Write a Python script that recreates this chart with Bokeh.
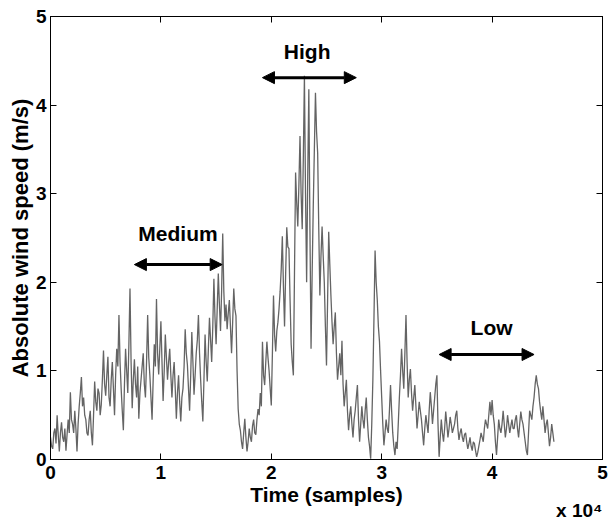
from bokeh.plotting import figure
from bokeh.models import Range1d, LinearAxis, FixedTicker, Label, Arrow, NormalHead, ColumnDataSource, Title
from bokeh.embed import file_html
from bokeh.resources import INLINE

# ---- data ----
samples = list(range(0, 45601, 100))          # time in samples
wind_speed = [
    0.25, 0.15, 0.12, 0.30, 0.35, 0.18, 0.50, 0.28, 0.09, 0.30,   # 0.0e4
    0.42, 0.25, 0.20, 0.35, 0.10, 0.28, 0.45, 0.30, 0.76, 0.45,
    0.40, 0.30, 0.55, 0.35, 0.09, 0.40, 0.60, 0.75, 0.93, 0.60,
    0.70, 0.50, 0.45, 0.30, 0.27, 0.45, 0.55, 0.30, 0.16, 0.50,
    0.88, 0.65, 0.55, 0.80, 0.75, 0.50, 0.62, 0.90, 1.23, 0.85,
    0.72, 0.95, 1.16, 0.70, 0.60, 0.90, 1.10, 0.80, 0.50, 0.95,
    1.25, 1.05, 1.63, 1.10, 0.80, 0.55, 0.33, 0.85, 1.25, 1.00,
    0.75, 1.30, 1.93, 1.10, 0.58, 0.90, 1.13, 0.85, 0.70, 1.05,
    0.46, 0.75, 0.90, 1.05, 1.20, 0.85, 0.70, 1.10, 1.63, 1.15,
    0.95, 0.70, 0.45, 0.90, 1.30, 1.05, 1.81, 1.20, 0.96, 1.25,
    1.56, 1.10, 0.66, 1.00, 1.41, 1.15, 0.90, 1.10, 1.25, 0.95,   # 1.0e4
    0.70, 0.95, 1.10, 0.80, 0.46, 0.75, 0.95, 0.65, 0.43, 0.70,
    0.80, 1.05, 1.47, 1.20, 1.07, 0.80, 0.55, 0.95, 1.44, 1.10,
    0.73, 0.95, 1.20, 1.35, 1.63, 1.20, 0.90, 0.65, 0.43, 0.90,
    1.41, 1.10, 0.88, 1.25, 1.60, 1.35, 1.10, 1.50, 2.04, 1.60,
    1.30, 1.70, 2.10, 1.75, 1.45, 1.90, 2.55, 1.90, 1.56, 1.75,
    1.47, 1.65, 1.80, 1.50, 1.20, 1.55, 1.93, 1.70, 1.62, 1.00,
    0.57, 0.40, 0.33, 0.20, 0.12, 0.30, 0.46, 0.25, 0.09, 0.20,
    0.35, 0.25, 0.20, 0.38, 0.45, 0.30, 0.28, 0.45, 0.57, 0.50,
    0.75, 0.60, 1.33, 0.95, 0.84, 1.10, 1.33, 1.15, 1.00, 0.80,
    0.61, 1.20, 1.85, 1.40, 1.22, 1.45, 1.55, 1.70, 1.90, 2.15,   # 2.0e4
    2.52, 1.95, 1.50, 2.10, 2.62, 2.40, 2.38, 1.80, 1.30, 1.10,
    0.95, 2.10, 3.24, 2.90, 2.63, 3.10, 3.65, 3.00, 2.60, 3.40,
    4.33, 3.00, 2.00, 3.20, 4.18, 2.60, 1.25, 2.10, 2.85, 3.50,
    4.14, 3.70, 3.46, 2.60, 1.85, 2.30, 2.63, 2.30, 2.00, 1.50,
    1.06, 1.80, 2.57, 2.20, 1.85, 1.55, 1.30, 1.50, 1.66, 1.20,
    0.90, 1.05, 1.20, 0.95, 1.34, 0.85, 0.60, 0.75, 0.90, 0.55,
    0.33, 0.50, 0.60, 0.40, 0.25, 0.45, 0.55, 0.70, 0.84, 0.45,
    0.20, 0.40, 0.60, 0.45, 0.35, 0.55, 0.70, 0.45, 0.25, 0.15,
    0.01, 0.40, 0.90, 1.60, 2.36, 2.00, 1.80, 1.50, 1.33, 1.00,
    0.70, 0.40, 0.16, 0.30, 0.45, 0.35, 0.30, 0.55, 0.84, 0.55,   # 3.0e4
    0.30, 0.15, 0.05, 0.20, 0.12, 0.40, 0.70, 0.95, 1.25, 1.00,
    0.80, 1.20, 1.63, 1.10, 0.70, 0.90, 1.02, 0.75, 0.55, 0.70,
    0.84, 0.60, 0.35, 0.50, 0.65, 0.55, 0.45, 0.30, 0.16, 0.35,
    0.50, 0.40, 0.30, 0.55, 0.76, 0.60, 0.40, 0.55, 0.70, 0.85,
    0.95, 0.40, 0.03, 0.25, 0.45, 0.30, 0.20, 0.35, 0.54, 0.40,
    0.25, 0.35, 0.48, 0.40, 0.30, 0.35, 0.40, 0.50, 0.55, 0.35,
    0.22, 0.30, 0.35, 0.25, 0.20, 0.28, 0.30, 0.20, 0.12, 0.18,
    0.25, 0.15, 0.10, 0.20, 0.18, 0.10, 0.03, 0.08, 0.15, 0.22,
    0.30, 0.25, 0.20, 0.35, 0.45, 0.40, 0.35, 0.50, 0.65, 0.50,
    0.67, 0.50, 0.40, 0.20, 0.05, 0.25, 0.45, 0.35, 0.30, 0.40,   # 4.0e4
    0.55, 0.40, 0.25, 0.35, 0.50, 0.40, 0.30, 0.38, 0.45, 0.35,
    0.35, 0.45, 0.50, 0.35, 0.25, 0.40, 0.54, 0.45, 0.40, 0.30,
    0.20, 0.10, 0.05, 0.30, 0.55, 0.50, 0.45, 0.60, 0.70, 0.85,
    0.95, 0.85, 0.80, 0.65, 0.54, 0.45, 0.60, 0.45, 0.30, 0.40,
    0.45, 0.30, 0.15, 0.25, 0.40, 0.30, 0.20,
]
x_ticks = [0, 1, 2, 3, 4, 5]
y_ticks = [0, 1, 2, 3, 4, 5]
x_scale = 1e4

# annotation regions: (label, x_start, x_end, arrow_y, text_x, text_y)
regions = [
    ("Medium", 0.76, 1.555, 2.20, 1.155, 2.55),
    ("High", 1.92, 2.77, 4.31, 2.325, 4.61),
    ("Low", 3.52, 4.38, 1.185, 3.995, 1.49),
]

FONT = "Liberation Sans"

src = ColumnDataSource(data=dict(t=[s / x_scale for s in samples], v=wind_speed))

p = figure(width=616, height=519, output_backend="svg", toolbar_location=None,
           x_range=Range1d(0, 5), y_range=Range1d(0, 5),
           min_border_left=50, min_border_right=14, min_border_top=16, min_border_bottom=60)
p.background_fill_color = "white"
p.border_fill_color = "white"
p.outline_line_color = "black"
p.grid.visible = False

p.line("t", "v", source=src, line_color="#646464", line_width=1.3)

def style_axis(ax, ticks, show_labels, standoff):
    ax.ticker = FixedTicker(ticks=ticks)
    ax.major_tick_in = 6
    ax.major_tick_out = 0
    ax.major_tick_line_color = "black"
    ax.minor_tick_line_color = None
    ax.axis_line_color = "black"
    ax.axis_line_width = 1
    ax.major_label_text_font = FONT
    ax.major_label_text_font_style = "bold"
    if show_labels:
        ax.major_label_text_color = "black"
        ax.major_label_text_font_size = "19px"
        ax.major_label_standoff = standoff
    else:
        ax.major_label_text_color = None
        ax.major_label_text_font_size = "2px"
        ax.major_label_standoff = 0

xa = p.xaxis[0]
ya = p.yaxis[0]
style_axis(xa, x_ticks, True, 6)
style_axis(ya, y_ticks, True, 4)
for ax, txt in ((xa, "Time (samples)"), (ya, "Absolute wind speed (m/s)")):
    ax.axis_label = txt
    ax.axis_label_text_font = FONT
    ax.axis_label_text_font_style = "bold"
    ax.axis_label_text_color = "black"
xa.axis_label_text_font_size = "21px"
xa.axis_label_standoff = 1
ya.axis_label_text_font_size = "22px"
ya.axis_label_standoff = 0

top = LinearAxis()
right = LinearAxis()
style_axis(top, x_ticks, False, 0)
style_axis(right, y_ticks, False, 0)
p.add_layout(top, "above")
p.add_layout(right, "right")

p.add_layout(Title(text="x 10\u2074", align="right", standoff=-22, text_font=FONT,
                   text_font_style="bold", text_font_size="19px", text_color="black"), "below")

for name, xs, xe, ay, tx, ty in regions:
    p.add_layout(Arrow(x_start=xs, y_start=ay, x_end=xe, y_end=ay,
                       line_color="black", line_width=3,
                       start=NormalHead(size=12, fill_color="black", line_color="black"),
                       end=NormalHead(size=12, fill_color="black", line_color="black")))
    p.add_layout(Label(x=tx, y=ty, text=name, text_align="center", text_baseline="middle",
                       text_font=FONT, text_font_style="bold", text_font_size="21px",
                       text_color="black"))

open("out.html", "w").write(file_html(p, INLINE))
